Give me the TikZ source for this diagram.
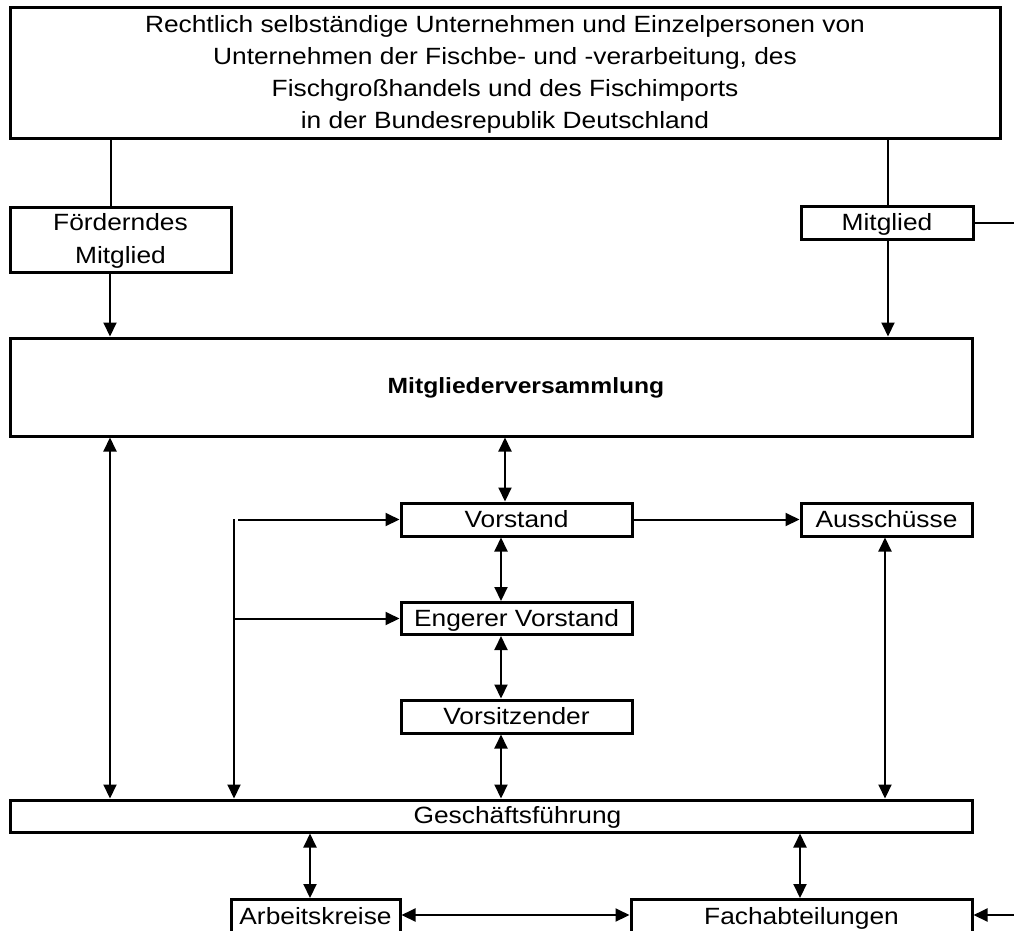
\documentclass[tikz,border=0pt]{standalone}
\usepackage{fontspec}
\setmainfont[FakeStretch=1.12]{Liberation Sans}
\usetikzlibrary{arrows.meta}
\begin{document}
\begin{tikzpicture}[x=1pt,y=-1pt,
  box/.style={draw=black,line width=3pt,inner sep=0pt,align=center,
    font=\fontsize{23.5}{33}\selectfont,text height=19pt,text depth=4pt},
  thin/.style={line width=1.5pt},
  arr/.style={line width=2pt,-{Triangle[length=14pt,width=13pt]}},
  darr/.style={line width=2pt,{Triangle[length=14pt,width=13pt]}-{Triangle[length=14pt,width=13pt]}}]
\useasboundingbox (0,0) rectangle (1014,930);
\fill[white] (0,0) rectangle (1014,930);
\begin{scope}
\clip (0,0) rectangle (1014,930);
% nodes
\node[box,minimum width=990pt,minimum height=131pt,text height=121pt,text depth=10pt,
  font=\fontsize{23.5}{31.8}\selectfont] (top) at (505,72.5)
  {Rechtlich selbständige Unternehmen und Einzelpersonen von\\
   Unternehmen der Fischbe- und -verarbeitung, des\\
   Fischgroßhandels und des Fischimports\\
   in der Bundesrepublik Deutschland};
\node[box,minimum width=221pt,minimum height=65pt,text height=56pt,text depth=9pt] (foerd) at (120.5,239.5) {Förderndes\\Mitglied};
\node[box,minimum width=172pt,minimum height=33pt] (mitgl) at (887,223) {Mitglied};
\node[box,minimum width=962pt,minimum height=98pt,text height=19pt,text depth=7pt,
  font=\fontsize{22}{33}\selectfont\bfseries] (mv) at (491,387) {\hspace*{70pt}Mitgliederversammlung};
\node[box,minimum width=231pt,minimum height=33pt] (vorst) at (516.5,519.5) {Vorstand};
\node[box,minimum width=171pt,minimum height=33pt] (aussch) at (886.5,519.5) {Ausschüsse};
\node[box,minimum width=231pt,minimum height=32pt] (eng) at (516.5,618.5) {Engerer Vorstand};
\node[box,minimum width=231pt,minimum height=33pt] (vors) at (516.5,716.5) {Vorsitzender};
\node[box,minimum width=962pt,minimum height=32pt] (gf) at (491,816) {\hspace*{53pt}Geschäftsführung};
\node[box,anchor=north,minimum width=169pt,text height=25pt,text depth=30pt] (ak) at (315.5,898) {Arbeitskreise};
\node[box,anchor=north,minimum width=341pt,text height=25pt,text depth=30pt] (fach) at (801.5,898) {Fachabteilungen};
% helper coordinates
\coordinate (xl) at (111,0);
\coordinate (xr) at (888,0);
\coordinate (xf) at (110,0);
\coordinate (xmv) at (505,0);
\coordinate (xv) at (501,0);
\coordinate (xa) at (885,0);
\coordinate (xb) at (234,0);
\coordinate (xak) at (310,0);
\coordinate (xfa) at (800,0);
\coordinate (vtop) at (234,519);
\coordinate (htop) at (238,519.5);
\coordinate (heng) at (234,618.5);
\coordinate (redge1) at (1014,223);
\coordinate (ybot) at (0,915);
\coordinate (redge2) at (1014,915);
% connectors
\draw[thin] (xl |- top.south) -- (xl |- foerd.north);
\draw[thin] (xr |- top.south) -- (xr |- mitgl.north);
\draw[thin] (mitgl.east) -- (redge1);
\draw[arr] (xf |- foerd.south) -- (xf |- mv.north);
\draw[arr] (xr |- mitgl.south) -- (xr |- mv.north);
\draw[darr] (xf |- mv.south) -- (xf |- gf.north);
\draw[darr] (xmv |- mv.south) -- (xmv |- vorst.north);
\draw[arr] (vorst.east) -- (aussch.west);
\draw[darr] (xv |- vorst.south) -- (xv |- eng.north);
\draw[darr] (xv |- eng.south) -- (xv |- vors.north);
\draw[darr] (xv |- vors.south) -- (xv |- gf.north);
\draw[darr] (xa |- aussch.south) -- (xa |- gf.north);
\draw[arr] (vtop) -- (xb |- gf.north);
\draw[arr] (htop) -- (vorst.west);
\draw[arr] (heng) -- (eng.west);
\draw[darr] (xak |- gf.south) -- (xak |- ak.north);
\draw[darr] (xfa |- gf.south) -- (xfa |- fach.north);
\draw[darr] (ak.east |- ybot) -- (fach.west |- ybot);
\draw[arr] (redge2) -- (fach.east |- redge2);
\end{scope}
\end{tikzpicture}
\end{document}
